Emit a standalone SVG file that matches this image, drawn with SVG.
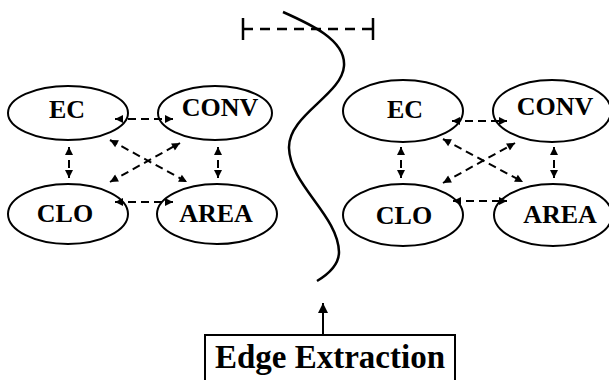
<svg xmlns="http://www.w3.org/2000/svg" width="609" height="380" viewBox="0 0 609 380">
<style>
.node ellipse{fill:#fff;stroke:#000;stroke-width:2}
.node text{font-family:"Liberation Serif","Times New Roman",serif;font-weight:bold;font-size:26px;text-anchor:middle;fill:#000}
.conn line{stroke:#000;stroke-width:2;stroke-dasharray:8 5;marker-start:url(#ah);marker-end:url(#ah)}
</style>
<defs>
<marker id="ah" viewBox="0 0 10 10" refX="10" refY="5" markerWidth="10" markerHeight="8" markerUnits="userSpaceOnUse" orient="auto-start-reverse">
<path d="M0,0 L10,5 L0,10 z" fill="#000"/>
</marker>
<marker id="big" viewBox="0 0 10 10" refX="10" refY="5" markerWidth="12" markerHeight="10" markerUnits="userSpaceOnUse" orient="auto">
<path d="M0,0 L10,5 L0,10 z" fill="#000"/>
</marker>
</defs>
<rect width="609" height="380" fill="#fff"/>

<!-- top dashed scale bar -->
<g id="scalebar" stroke="#000" stroke-width="2.5">
<line x1="243" y1="29" x2="373" y2="29" stroke-dasharray="10 7"/>
<line x1="243" y1="18" x2="243" y2="40"/>
<line x1="373" y1="18" x2="373" y2="40"/>
</g>

<!-- edge curve -->
<path id="edge-curve" d="M283,12 C310,24 346,40 344,66 C342,95 288,115 289,148 C290,185 338,215 339,252 C339,265 327,275 317,281" fill="none" stroke="#000" stroke-width="2.5"/>

<!-- left group -->
<g id="left-EC" class="node"><ellipse cx="68" cy="113" rx="60" ry="27"/><text x="67" y="118">EC</text></g>
<g id="left-CONV" class="node"><ellipse cx="215" cy="113" rx="57" ry="27"/><text x="220" y="116">CONV</text></g>
<g id="left-CLO" class="node"><ellipse cx="68" cy="214" rx="60" ry="30"/><text x="65" y="222">CLO</text></g>
<g id="left-AREA" class="node"><ellipse cx="217" cy="214" rx="60" ry="30"/><text x="216" y="222">AREA</text></g>

<!-- right group -->
<g id="right-EC" class="node"><ellipse cx="403" cy="111" rx="60" ry="31"/><text x="405" y="118">EC</text></g>
<g id="right-CONV" class="node"><ellipse cx="552" cy="111" rx="59" ry="31"/><text x="555" y="115">CONV</text></g>
<g id="right-CLO" class="node"><ellipse cx="403" cy="215" rx="60" ry="31"/><text x="404" y="224">CLO</text></g>
<g id="right-AREA" class="node"><ellipse cx="553" cy="215" rx="59" ry="31"/><text x="560" y="223">AREA</text></g>

<!-- extraction box -->
<g id="edge-extraction" class="node">
<rect x="205" y="335" width="250" height="60" fill="#fff" stroke="#000" stroke-width="2"/>
<text x="330" y="368" style="font-size:33px">Edge Extraction</text>
</g>

<g id="connectors" class="conn">
<line x1="115" y1="119" x2="173" y2="119"/>
<line x1="69" y1="147" x2="69" y2="178"/>
<line x1="218" y1="147" x2="218" y2="178"/>
<line x1="110" y1="140" x2="187" y2="182"/>
<line x1="110" y1="182" x2="180" y2="143"/>
<line x1="115" y1="202" x2="173" y2="202"/>

<line x1="452" y1="121" x2="507" y2="121"/>
<line x1="401" y1="147" x2="401" y2="178"/>
<line x1="554" y1="147" x2="554" y2="178"/>
<line x1="443" y1="139" x2="523" y2="182"/>
<line x1="443" y1="183" x2="515" y2="143"/>
<line x1="453" y1="201" x2="507" y2="201"/>

<line x1="323" y1="335" x2="323" y2="303" style="stroke-dasharray:none;stroke-width:2;marker-start:none;marker-end:url(#big)"/>
</g>
</svg>
